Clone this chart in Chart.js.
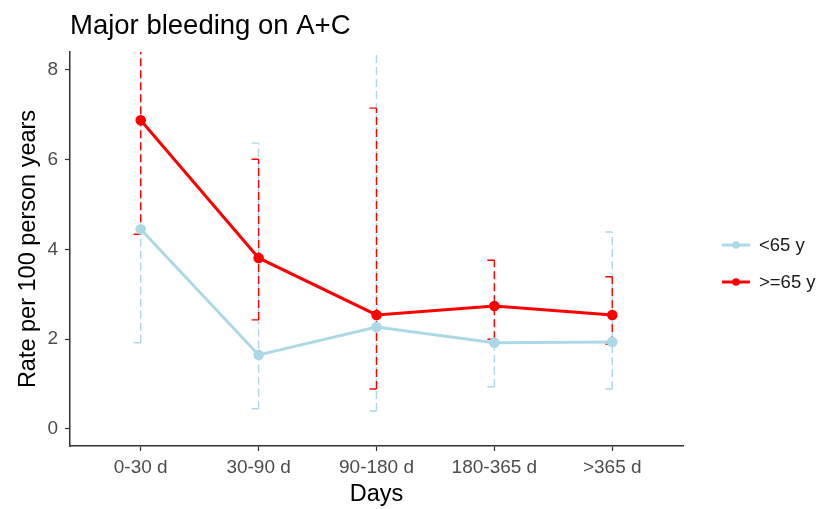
<!DOCTYPE html>
<html>
<head>
<meta charset="utf-8">
<script src="https://cdn.jsdelivr.net/npm/chart.js@4.4.0/dist/chart.umd.min.js"></script>
<style>
  body { margin: 0; background: #fff; }
  #wrap { width: 819px; height: 509px; position: relative; }
</style>
</head>
<body>
<div id="wrap"><canvas id="myChart"></canvas></div>
<script>
// data
const categories = ['0-30 d', '30-90 d', '90-180 d', '180-365 d', '>365 d'];
const yTicks = [0, 2, 4, 6, 8];

// <65 y
const youngRate = [4.45, 1.65, 2.27, 1.92, 1.94];
const youngLow = [1.92, 0.45, 0.40, 0.94, 0.89];
const youngHigh = [10.2, 6.37, 9.0, 3.76, 4.39];

// >=65 y
const oldRate = [6.88, 3.81, 2.54, 2.74, 2.54];
const oldLow = [4.34, 2.43, 0.89, 2.00, 1.89];
const oldHigh = [11.5, 6.01, 7.15, 3.76, 3.39];

const FONT = "'Liberation Sans', Arial, sans-serif";
const BLUE = '#ADD8E6';
const RED = '#FF0000';

function toPoints(values) {
  return values.map((v, i) => ({ x: i + 1, y: v }));
}

// dashed error bars, cap sticks out to the left only
const errorBars = {
  id: 'errorBars',
  beforeDatasetsDraw(chart) {
    const { ctx, chartArea, scales } = chart;
    const sets = [
      { lo: youngLow, hi: youngHigh, color: BLUE },
      { lo: oldLow, hi: oldHigh, color: RED },
    ];
    ctx.save();
    ctx.beginPath();
    ctx.rect(chartArea.left, chartArea.top, chartArea.right - chartArea.left, chartArea.bottom - chartArea.top);
    ctx.clip();
    ctx.lineWidth = 1.4;
    for (const s of sets) {
      ctx.strokeStyle = s.color;
      for (let i = 0; i < categories.length; i++) {
        const x = scales.x.getPixelForValue(i + 1);
        const y1 = scales.y.getPixelForValue(s.lo[i]);
        const y2 = scales.y.getPixelForValue(s.hi[i]);
        ctx.setLineDash([8, 4]);
        ctx.beginPath();
        ctx.moveTo(x, y1);
        ctx.lineTo(x, y2);
        ctx.stroke();
        ctx.setLineDash([]);
        ctx.beginPath();
        ctx.moveTo(x - 7, y1);
        ctx.lineTo(x, y1);
        ctx.moveTo(x - 7, y2);
        ctx.lineTo(x, y2);
        ctx.stroke();
      }
    }
    ctx.restore();
  }
};

// title top left + legend on the right (ggplot look)
const extras = {
  id: 'extras',
  afterDraw(chart) {
    const ctx = chart.ctx;
    ctx.save();
    ctx.fillStyle = '#000';
    ctx.font = '27.5px ' + FONT;
    ctx.textBaseline = 'alphabetic';
    ctx.textAlign = 'left';
    ctx.fillText('Major bleeding on A+C', 70, 34);

    const items = [
      { label: '<65 y', color: BLUE, y: 245 },
      { label: '>=65 y', color: RED, y: 282 },
    ];
    for (const it of items) {
      ctx.strokeStyle = it.color;
      ctx.lineWidth = 3;
      ctx.beginPath();
      ctx.moveTo(722, it.y);
      ctx.lineTo(750, it.y);
      ctx.stroke();
      ctx.fillStyle = it.color;
      ctx.beginPath();
      ctx.arc(736, it.y, 3.8, 0, Math.PI * 2);
      ctx.fill();
      ctx.fillStyle = '#1a1a1a';
      ctx.font = '18.5px ' + FONT;
      ctx.textBaseline = 'middle';
      ctx.fillText(it.label, 759, it.y + 1);
    }
    ctx.restore();
  }
};

function mainChart() {
  const ctx = document.querySelector('#myChart');
  new Chart(ctx, {
    type: 'line',
    data: {
      datasets: [
        {
          label: '<65 y',
          data: toPoints(youngRate),
          borderColor: BLUE,
          backgroundColor: BLUE,
          borderWidth: 3,
          pointRadius: 3.8,
          pointHoverRadius: 3.8,
          order: 1,
        },
        {
          label: '>=65 y',
          data: toPoints(oldRate),
          borderColor: RED,
          backgroundColor: RED,
          borderWidth: 3,
          pointRadius: 3.8,
          pointHoverRadius: 3.8,
          order: 0,
        },
      ],
    },
    options: {
      responsive: true,
      maintainAspectRatio: false,
      animation: false,
      layout: { padding: { left: 0, top: 52, right: 136, bottom: 0 } },
      plugins: {
        legend: { display: false },
        tooltip: { enabled: false },
        title: { display: false },
      },
      scales: {
        x: {
          type: 'linear',
          min: 0.4,
          max: 5.6,
          afterBuildTicks: (scale) => { scale.ticks = categories.map((c, i) => ({ value: i + 1 })); },
          afterFit: (scale) => { scale.height = 63; },
          ticks: {
            callback: (v) => categories[v - 1],
            color: '#4d4d4d',
            font: { family: FONT, size: 19 },
            padding: 5,
            maxRotation: 0,
            autoSkip: false,
          },
          grid: { drawOnChartArea: false, tickLength: 5, tickColor: '#333', tickWidth: 1.2 },
          border: { display: true, color: '#333', width: 1.5 },
          title: {
            display: true,
            text: 'Days',
            color: '#000',
            font: { family: FONT, size: 23.5 },
            padding: { top: 0, bottom: 0 },
          },
        },
        y: {
          min: -0.38,
          max: 8.4,
          afterBuildTicks: (scale) => { scale.ticks = yTicks.map(v => ({ value: v })); },
          afterFit: (scale) => { scale.width = 70; },
          ticks: {
            color: '#4d4d4d',
            font: { family: FONT, size: 19 },
            padding: 7,
          },
          grid: { drawOnChartArea: false, tickLength: 5, tickColor: '#333', tickWidth: 1.2 },
          border: { display: true, color: '#333', width: 1.5 },
          title: {
            display: true,
            text: 'Rate per 100 person years',
            color: '#000',
            font: { family: FONT, size: 23.5 },
            padding: { top: 14, bottom: 0 },
          },
        },
      },
    },
    plugins: [errorBars, extras],
  });
}

document.addEventListener('DOMContentLoaded', () => mainChart());
</script>
</body>
</html>
